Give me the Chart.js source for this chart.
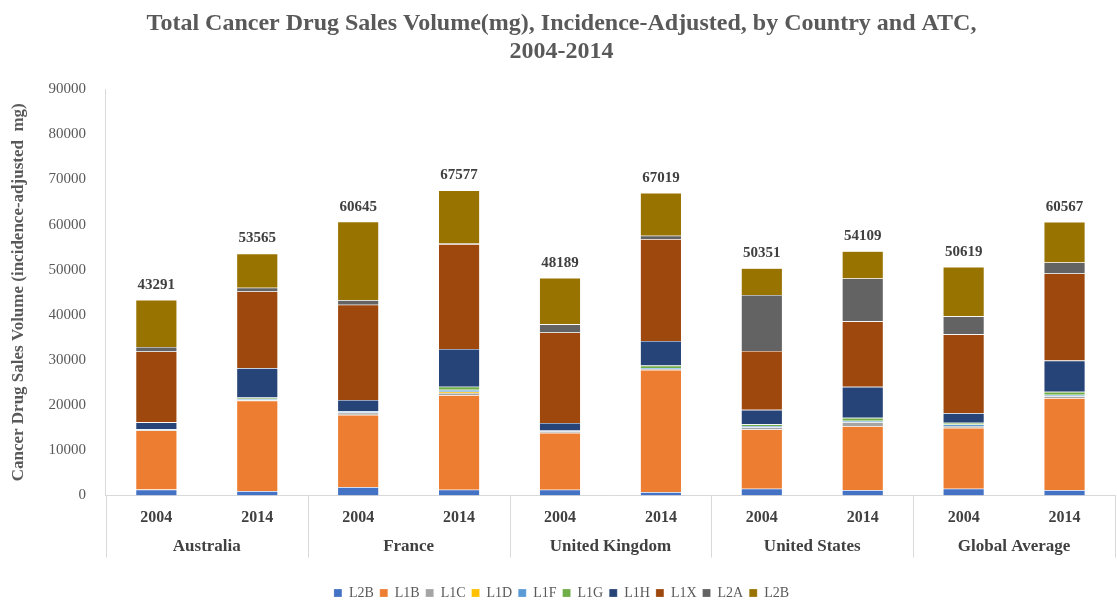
<!DOCTYPE html>
<html>
<head>
<meta charset="utf-8">
<script src="https://cdn.jsdelivr.net/npm/chart.js@4"></script>
<style>
  html, body { margin: 0; padding: 0; background: #fff; }
  #wrap { width: 1117px; height: 605px; }
</style>
</head>
<body>
<div id="wrap"><canvas id="chart" width="1117" height="605"></canvas></div>
<script>
var years = ['2004', '2014', '2004', '2014', '2004', '2014', '2004', '2014', '2004', '2014'];
var countries = ['Australia', 'France', 'United Kingdom', 'United States', 'Global Average'];
var totals = [43291, 53565, 60645, 67577, 48189, 67019, 50351, 54109, 50619, 60567];

// one array per ATC group, bottom to top
var l2bBlue = [1300, 950, 1850, 1260, 1260, 730, 1480, 1170, 1480, 1170];
var l1b = [13100, 20050, 16000, 20930, 12600, 27070, 13120, 14160, 13500, 20360];
var l1c = [200, 200, 500, 500, 400, 200, 500, 900, 400, 440];
var l1d = [0, 0, 0, 300, 0, 0, 0, 0, 0, 0];
var l1f = [100, 200, 300, 400, 100, 200, 300, 300, 350, 310];
var l1g = [0, 300, 0, 700, 0, 560, 350, 660, 350, 660];
var l1h = [1500, 6500, 2500, 8360, 1700, 5460, 3200, 6860, 2130, 6930];
var l1x = [15700, 17000, 21100, 23240, 20050, 22570, 13050, 14510, 17480, 19310];
var l2a = [1000, 800, 1000, 100, 1800, 730, 12400, 9520, 3980, 2440];
var l2bOlive = [10391, 7565, 17395, 11787, 10279, 9499, 5951, 6029, 10949, 8947];

var seriesNames = ['L2B', 'L1B', 'L1C', 'L1D', 'L1F', 'L1G', 'L1H', 'L1X', 'L2A', 'L2B'];
var seriesData = [l2bBlue, l1b, l1c, l1d, l1f, l1g, l1h, l1x, l2a, l2bOlive];
var seriesColors = ['#4472C4', '#ED7D31', '#A5A5A5', '#FFC000', '#5B9BD5', '#70AD47', '#264478', '#9E480E', '#636363', '#997300'];

var serif = 'Liberation Serif';

var datasets = seriesNames.map(function (name, i) {
  return {
    label: name,
    data: seriesData[i],
    backgroundColor: seriesColors[i],
    borderColor: 'rgba(255,255,255,0.35)',
    borderWidth: 0.6,
    categoryPercentage: 1,
    barPercentage: 0.41
  };
});

// totals written above each stack
var totalLabels = {
  id: 'totalLabels',
  afterDatasetsDraw: function (chart) {
    var ctx = chart.ctx;
    var x = chart.scales.x;
    var y = chart.scales.y;
    ctx.save();
    ctx.font = 'bold 15px "' + serif + '"';
    ctx.fillStyle = '#404040';
    ctx.textAlign = 'center';
    ctx.textBaseline = 'middle';
    totals.forEach(function (t, i) {
      ctx.fillText(String(t), x.getPixelForValue(i), y.getPixelForValue(t) - 15);
    });
    ctx.restore();
  }
};

// vertical dividers between the country groups, under the axis
var groupLines = {
  id: 'groupLines',
  afterDraw: function (chart) {
    var ctx = chart.ctx;
    var x = chart.scales.x;
    var x2 = chart.scales.x2;
    var step = (x.right - x.left) / years.length;
    ctx.save();
    ctx.strokeStyle = '#d9d9d9';
    ctx.lineWidth = 1;
    for (var i = 0; i <= years.length; i += 2) {
      var px = Math.round(x.left + step * i) + 0.5;
      ctx.beginPath();
      ctx.moveTo(px, x.top);
      ctx.lineTo(px, x2.top + 25);
      ctx.stroke();
    }
    ctx.restore();
  }
};

new Chart(document.getElementById('chart').getContext('2d'), {
  type: 'bar',
  data: { labels: years, datasets: datasets },
  plugins: [totalLabels, groupLines],
  options: {
    responsive: false,
    animation: false,
    layout: { padding: { left: 8, right: 2, top: 4, bottom: -5 } },
    plugins: {
      title: {
        display: true,
        text: ['Total Cancer Drug Sales Volume(mg), Incidence-Adjusted, by Country and ATC,', '2004-2014'],
        color: '#595959',
        font: { family: serif, size: 24, weight: 'bold', lineHeight: 1.17 },
        padding: { top: 6, bottom: 23 }
      },
      legend: {
        position: 'bottom',
        labels: {
          color: '#595959',
          font: { family: serif, size: 14 },
          boxWidth: 8,
          boxHeight: 8,
          padding: 6
        }
      },
      tooltip: { enabled: false }
    },
    scales: {
      x: {
        stacked: true,
        grid: { display: false, drawTicks: true, tickLength: 8 },
        border: { color: '#d9d9d9' },
        ticks: {
          padding: 5,
          color: '#404040',
          font: { family: serif, size: 16, weight: 'bold' }
        }
      },
      x2: {
        type: 'category',
        position: 'bottom',
        labels: countries,
        offset: true,
        grid: { display: false, drawTicks: false },
        border: { display: false },
        ticks: {
          padding: 4,
          color: '#404040',
          font: { family: serif, size: 17, weight: 'bold' }
        },
        // blank title only keeps room between the group names and the legend
        title: {
          display: true,
          text: ' ',
          font: { size: 10, lineHeight: 1 },
          padding: { top: 9, bottom: 0 }
        }
      },
      y: {
        stacked: true,
        min: 0,
        max: 90000,
        ticks: {
          stepSize: 10000,
          padding: 12,
          color: '#595959',
          font: { family: serif, size: 15 },
          callback: function (v) { return String(v); }
        },
        grid: { display: false },
        border: { color: '#d9d9d9' },
        title: {
          display: true,
          text: 'Cancer Drug Sales Volume (incidence-adjusted  mg)',
          color: '#595959',
          font: { family: serif, size: 17, weight: 'bold' },
          padding: { top: 0, bottom: 8 }
        }
      }
    }
  }
});
</script>
</body>
</html>
